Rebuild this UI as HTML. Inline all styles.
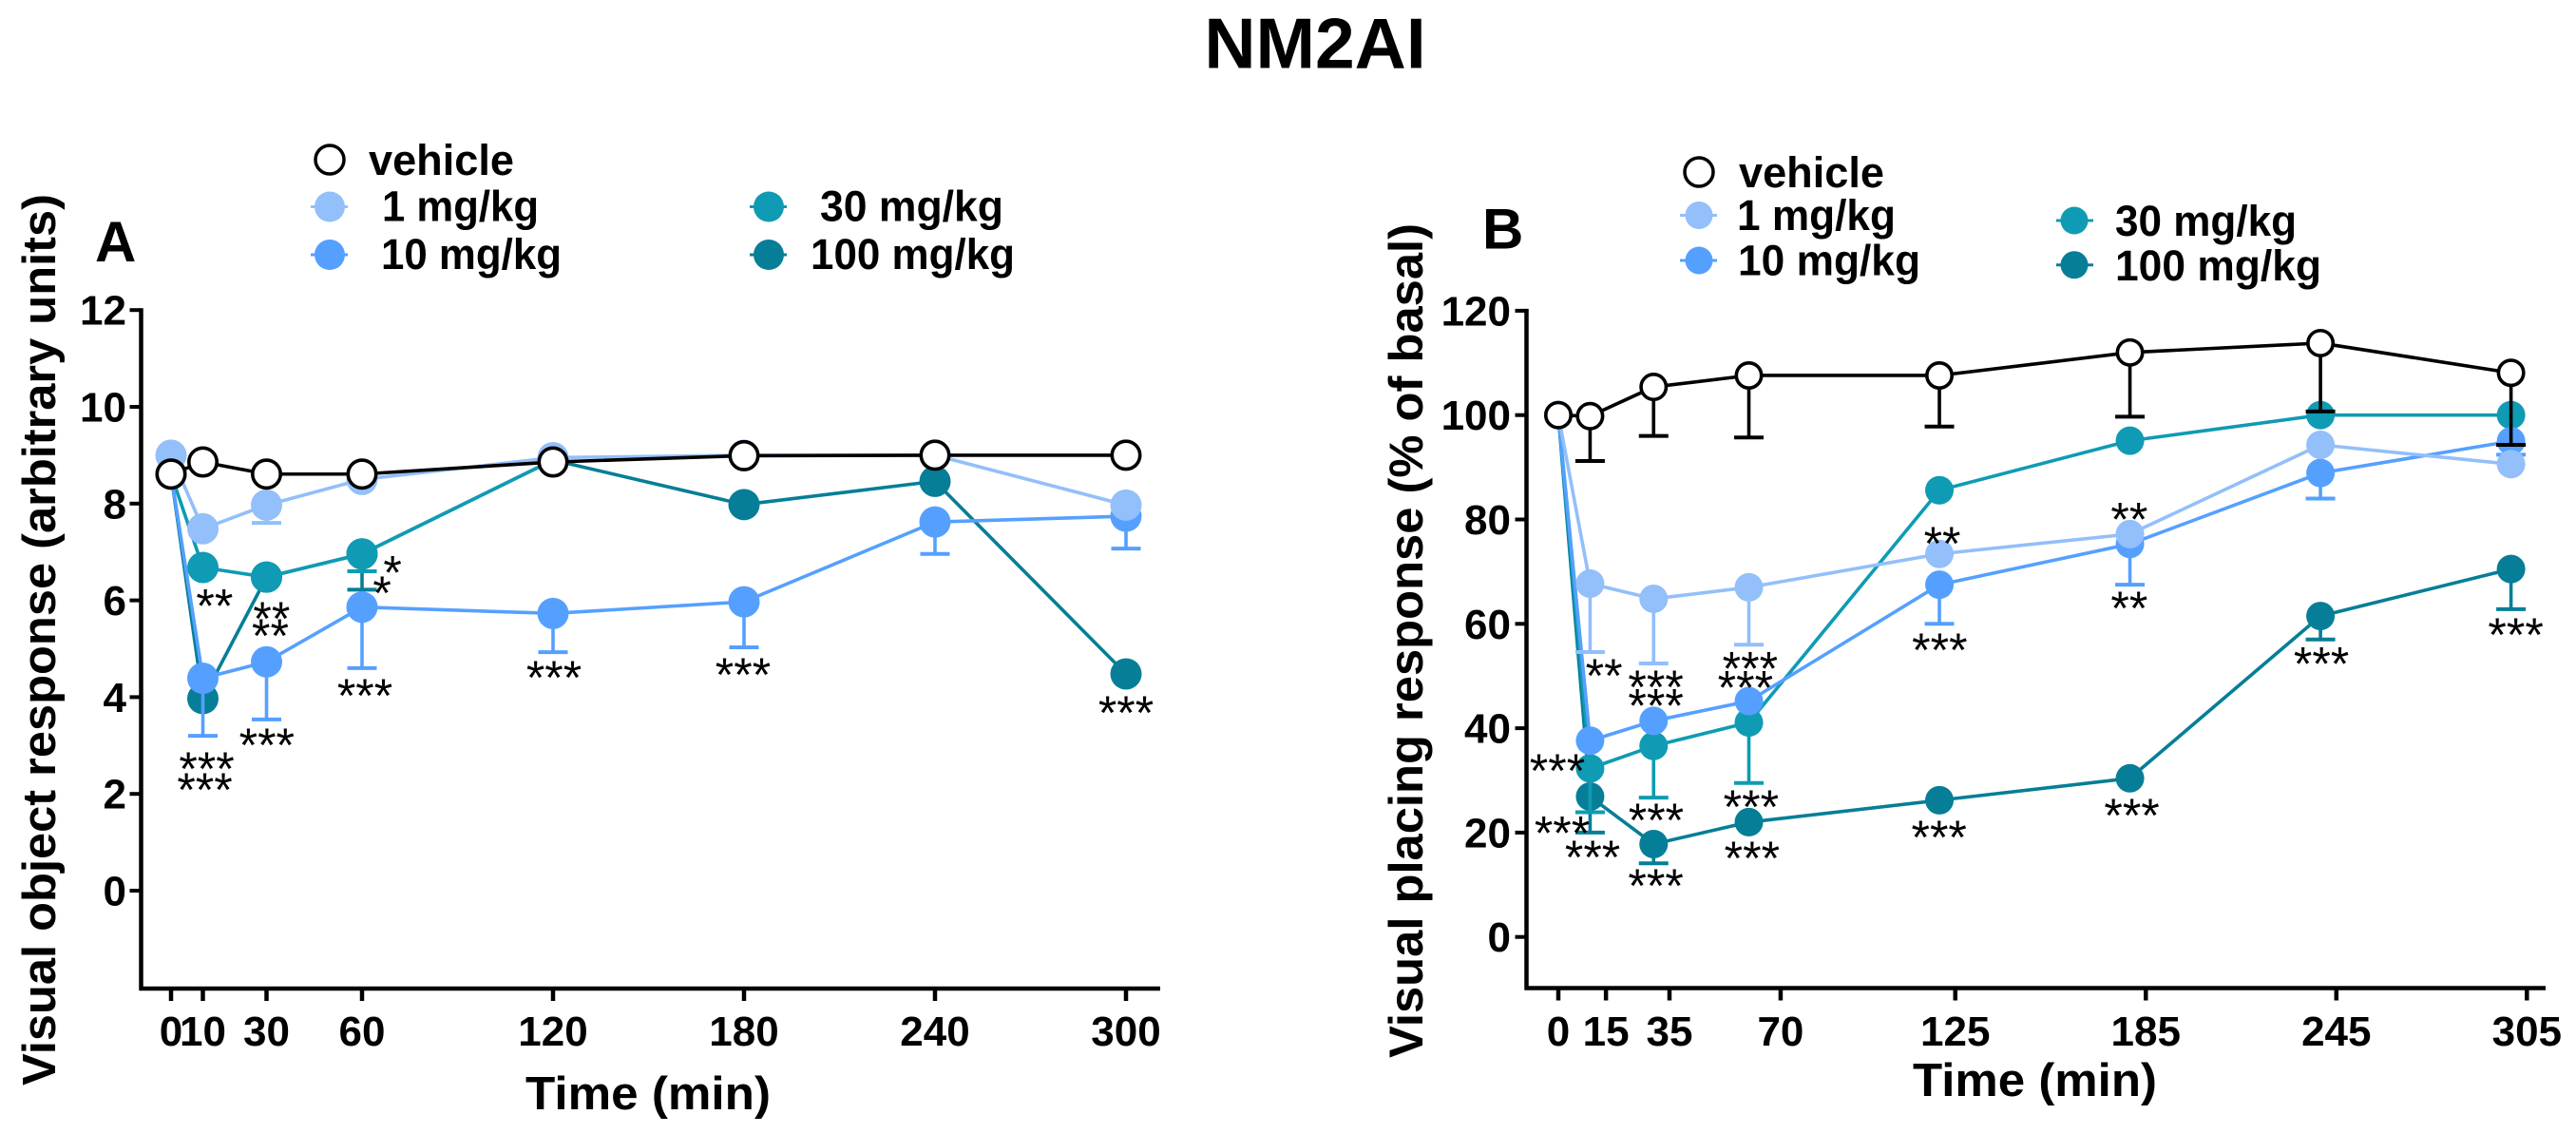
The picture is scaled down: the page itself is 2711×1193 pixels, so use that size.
<!DOCTYPE html>
<html lang="en">
<head>
<meta charset="utf-8">
<title>NM2AI</title>
<style>
html,body{margin:0;padding:0;background:#fff;}
body{width:2711px;height:1193px;overflow:hidden;}
svg{display:block;}
text{font-family:"Liberation Sans",Arial,sans-serif;font-weight:700;fill:#000;}
text.sig{font-weight:400;}
</style>
</head>
<body>
<svg id="fig" xmlns="http://www.w3.org/2000/svg" width="2711" height="1193" viewBox="0 0 2711 1193">
  <rect width="2711" height="1193" fill="#fff"/>
  <text x="1384" y="71.5" font-size="75" text-anchor="middle">NM2AI</text>

  <text x="100" y="275" font-size="60">A</text>
  <text transform="translate(58,1142) rotate(-90)" font-size="49" textLength="938" lengthAdjust="spacingAndGlyphs">Visual object response (arbitrary units)</text>
  <text x="553" y="1167" font-size="49" textLength="258" lengthAdjust="spacingAndGlyphs">Time (min)</text>

  <g>
    <g>
      <circle cx="347" cy="168" r="15" fill="#fff" stroke="#000" stroke-width="3.5"/>
      <text x="388" y="184" font-size="45" textLength="153" lengthAdjust="spacingAndGlyphs">vehicle</text>
    </g>
    <g>
      <line x1="327" x2="366" y1="217.5" y2="217.5" stroke="#93bffa" stroke-width="3"/>
      <circle cx="347" cy="217.5" r="16" fill="#93bffa"/>
      <text x="402" y="232.5" font-size="45" textLength="165" lengthAdjust="spacingAndGlyphs">1 mg/kg</text>
    </g>
    <g>
      <line x1="327" x2="366" y1="268" y2="268" stroke="#55a0ff" stroke-width="3"/>
      <circle cx="347" cy="268" r="16" fill="#55a0ff"/>
      <text x="401" y="283" font-size="45" textLength="190" lengthAdjust="spacingAndGlyphs">10 mg/kg</text>
    </g>
    <g>
      <line x1="789" x2="828" y1="217.5" y2="217.5" stroke="#0f9bb3" stroke-width="3"/>
      <circle cx="809" cy="217.5" r="16" fill="#0f9bb3"/>
      <text x="863" y="232.5" font-size="45" textLength="193" lengthAdjust="spacingAndGlyphs">30 mg/kg</text>
    </g>
    <g>
      <line x1="789" x2="828" y1="268" y2="268" stroke="#067e97" stroke-width="3"/>
      <circle cx="809" cy="268" r="16" fill="#067e97"/>
      <text x="853" y="283" font-size="45" textLength="215" lengthAdjust="spacingAndGlyphs">100 mg/kg</text>
    </g>
  </g>

  <text x="1560" y="261.5" font-size="60">B</text>
  <text transform="translate(1497,1113) rotate(-90)" font-size="50" textLength="878" lengthAdjust="spacingAndGlyphs">Visual placing response (% of basal)</text>
  <text x="2013" y="1153" font-size="49" textLength="257" lengthAdjust="spacingAndGlyphs">Time (min)</text>

  <g>
    <g>
      <circle cx="1788" cy="181" r="15" fill="#fff" stroke="#000" stroke-width="3.5"/>
      <text x="1830" y="197" font-size="45" textLength="153" lengthAdjust="spacingAndGlyphs">vehicle</text>
    </g>
    <g>
      <line x1="1768" x2="1807" y1="226.5" y2="226.5" stroke="#93bffa" stroke-width="3"/>
      <circle cx="1788" cy="226.5" r="14.5" fill="#93bffa"/>
      <text x="1828" y="242" font-size="45" textLength="167" lengthAdjust="spacingAndGlyphs">1 mg/kg</text>
    </g>
    <g>
      <line x1="1768" x2="1807" y1="274" y2="274" stroke="#55a0ff" stroke-width="3"/>
      <circle cx="1788" cy="274" r="14.5" fill="#55a0ff"/>
      <text x="1829" y="289.5" font-size="45" textLength="192" lengthAdjust="spacingAndGlyphs">10 mg/kg</text>
    </g>
    <g>
      <line x1="2164" x2="2203" y1="232" y2="232" stroke="#0f9bb3" stroke-width="3"/>
      <circle cx="2183" cy="232" r="14.5" fill="#0f9bb3"/>
      <text x="2226" y="248" font-size="45" textLength="191" lengthAdjust="spacingAndGlyphs">30 mg/kg</text>
    </g>
    <g>
      <line x1="2164" x2="2203" y1="278.7" y2="278.7" stroke="#067e97" stroke-width="3"/>
      <circle cx="2183" cy="278.7" r="14.5" fill="#067e97"/>
      <text x="2226" y="295" font-size="45" textLength="217" lengthAdjust="spacingAndGlyphs">100 mg/kg</text>
    </g>
  </g>

  <g id="panel-a"></g>
  <g id="panel-b"></g>
</svg>

<script>
// Shared sampling times (minutes)
const timePoints = [0, 10, 30, 60, 120, 180, 240, 300];

// Panel A: visual object response
const yTicksA = [0, 2, 4, 6, 8, 10, 12];
const xTicksA = [0, 10, 30, 60, 120, 180, 240, 300];
const xTickLabelsA = ['0', '10', '30', '60', '120', '180', '240', '300'];
const a100 = [8.61, 3.97, 6.48, 6.96, 8.9, 7.98, 8.46, 4.48];
const a100Err = [null, null, null, 6.22, null, null, null, null];
const a30 = [8.61, 6.68, 6.48, 6.96, 8.9, null, null, null];
const a30Err = [null, null, null, 6.6, null, null, null, null];
const a10 = [8.61, 4.39, 4.73, 5.86, 5.73, 5.97, 7.62, 7.74];
const a10Err = [null, 3.2, 3.54, 4.6, 4.93, 5.03, 6.96, 7.07];
const a1 = [9.0, 7.48, 7.97, 8.5, 8.95, 9.0, 9.0, 7.97];
const a1Err = [null, null, 7.6, null, null, null, null, null];
const aVehicle = [8.61, 8.86, 8.61, 8.61, 8.86, 8.99, 9.0, 9.0];
const aVehicleErr = [null, null, null, null, null, null, null, null];
const sigTimesA = [13.7, 31.6, 31.2, 69.6, 66.3, 11.2, 10.6, 30.1, 60.9, 120.3, 179.7, 300.0];
const sigValuesA = [6.08, 5.82, 5.46, 6.77, 6.35, 2.71, 2.28, 3.2, 4.22, 4.6, 4.66, 3.87];
const sigLabelsA = ['**', '**', '**', '*', '*', '***', '***', '***', '***', '***', '***', '***'];

// Panel B: visual placing response
const yTicksB = [0, 20, 40, 60, 80, 100, 120];
const xTicksB = [0, 15, 35, 70, 125, 185, 245, 305];
const xTickLabelsB = ['0', '15', '35', '70', '125', '185', '245', '305'];
const b100 = [100, 26.9, 17.8, 22, 26.2, 30.4, 61.5, 70.5];
const b100Err = [null, 20, 14.1, null, null, null, 57, 62.8];
const b30 = [100, 32.3, 36.6, 41.1, 85.6, 95.1, 100, 100];
const b30Err = [null, 23.9, 26.7, 29.5, null, null, null, null];
const b10 = [100, 37.6, 41.4, 45.2, 67.5, 75.3, 88.9, 95];
const b10Err = [null, null, null, null, 60, 67.5, 84, 92.4];
const b1 = [100, 67.7, 64.8, 67, 73.4, 77.2, 94.3, 90.6];
const b1Err = [null, 54.6, 52.4, 56, null, null, null, null];
const bVehicle = [100, 99.8, 105.4, 107.6, 107.6, 112, 113.8, 108.1];
const bVehicleErr = [null, 91.2, 96, 95.7, 97.8, 99.7, 100.7, 94.3];
const sigTimesB = [14.4, 30.7, 30.7, 60.4, 58.9, 120.1, -0.3, 1.2, 10.8, 30.8, 30.7, 60.7, 61, 119.9, 120.9, 179.8, 179.8, 240.3, 301.5, 180.6];
const sigValuesB = [51.9, 49.7, 46.1, 53.2, 49.6, 56.8, 33.6, 21.7, 17.1, 24.2, 11.6, 26.7, 16.9, 20.9, 77.2, 81.8, 64.8, 54.1, 59.7, 25.1];
const sigLabelsB = ['**', '***', '***', '***', '***', '***', '***', '***', '***', '***', '***', '***', '***', '***', '**', '**', '**', '***', '***', '***'];

const NS = 'http://www.w3.org/2000/svg';

function make(parent, tag, attrs, content) {
  const el = document.createElementNS(NS, tag);
  for (const k in attrs) el.setAttribute(k, attrs[k]);
  if (content !== undefined) el.textContent = content;
  parent.appendChild(el);
  return el;
}

function drawAxes(root, cfg) {
  const axisG = make(root, 'g', {});
  
  

  const yAxis = make(axisG, 'line', {x1: cfg.axisX, x2: cfg.axisX, y1: cfg.sy(cfg.yTicks[cfg.yTicks.length - 1]) - 2, y2: cfg.axisY + 2, stroke: '#000', 'stroke-width': 4.5});
  
  

  const xAxis = make(axisG, 'line', {x1: cfg.axisX - 2, x2: cfg.axisEnd, y1: cfg.axisY, y2: cfg.axisY, stroke: '#000', 'stroke-width': 4.5});
  
  

  cfg.yTicks.forEach(function (v) {
    const y = cfg.sy(v);
    const tick = make(axisG, 'line', {x1: cfg.axisX - 12, x2: cfg.axisX, y1: y, y2: y, stroke: '#000', 'stroke-width': 4});
    
    
    const label = make(axisG, 'text', {x: cfg.yLabelX, y: y + 15.5, 'font-size': 44, 'text-anchor': 'end'}, String(v));
    
    
  });

  cfg.xTicks.forEach(function (t, i) {
    const x = cfg.sx(t);
    const tick = make(axisG, 'line', {x1: x, x2: x, y1: cfg.axisY, y2: cfg.axisY + 13, stroke: '#000', 'stroke-width': 4.5});
    
    
    const label = make(axisG, 'text', {x: x, y: cfg.xLabelY, 'font-size': 44, 'text-anchor': 'middle'}, cfg.xTickLabels[i]);
    
    
  });
}

function drawSeries(root, cfg, name, values, errors, color, hollow) {
  const g = make(root, 'g', {});
  
  

  const pts = [];
  timePoints.forEach(function (t, i) {
    if (values[i] !== null) pts.push(cfg.sx(t) + ',' + cfg.sy(values[i]));
  });
  const line = make(g, 'polyline', {points: pts.join(' '), fill: 'none', stroke: color, 'stroke-width': 3.6, 'stroke-linejoin': 'round'});
  
  

  timePoints.forEach(function (t, i) {
    if (errors[i] === null || values[i] === null) return;
    const x = cfg.sx(t);
    const stem = make(g, 'line', {x1: x, x2: x, y1: cfg.sy(values[i]), y2: cfg.sy(errors[i]), stroke: color, 'stroke-width': 3.6});
    
    
    const cap = make(g, 'line', {x1: x - 15.5, x2: x + 15.5, y1: cfg.sy(errors[i]), y2: cfg.sy(errors[i]), stroke: color, 'stroke-width': 4});
    
    
  });

  timePoints.forEach(function (t, i) {
    if (values[i] === null) return;
    const attrs = hollow
      ? {cx: cfg.sx(t), cy: cfg.sy(values[i]), r: cfg.r - 1.8, fill: '#fff', stroke: '#000', 'stroke-width': 3.6}
      : {cx: cfg.sx(t), cy: cfg.sy(values[i]), r: cfg.r, fill: color};
    const dot = make(g, 'circle', attrs);
    
    
  });
}

function drawSignificance(root, cfg, times, vals, labels) {
  const g = make(root, 'g', {});
  
  
  labels.forEach(function (s, i) {
    const mark = make(g, 'text', {x: cfg.sx(times[i]), y: cfg.sy(vals[i]) + 27, 'font-size': 50, 'text-anchor': 'middle', class: 'sig'}, s);
    
    
  });
}

const colors = {c100: '#067e97', c30: '#0f9bb3', c10: '#55a0ff', c1: '#93bffa', vehicle: '#000'};

const cfgA = {
  sx: function (t) { return 180 + 3.35 * t; },
  sy: function (v) { return 937 - 50.9 * v; },
  axisX: 148.5, axisY: 1040, axisEnd: 1221,
  yLabelX: 133, xLabelY: 1100,
  yTicks: yTicksA, xTicks: xTicksA, xTickLabels: xTickLabelsA, r: 16.5
};
const cfgB = {
  sx: function (t) { return 1640 + 3.342 * t; },
  sy: function (v) { return 985.7 - 5.49 * v; },
  axisX: 1606.5, axisY: 1039.5, axisEnd: 2679,
  yLabelX: 1590, xLabelY: 1100,
  yTicks: yTicksB, xTicks: xTicksB, xTickLabels: xTickLabelsB, r: 15
};

const rootA = document.getElementById('panel-a');
drawAxes(rootA, cfgA);
drawSeries(rootA, cfgA, '100-mg-kg', a100, a100Err, colors.c100, false);
drawSeries(rootA, cfgA, '30-mg-kg', a30, a30Err, colors.c30, false);
drawSeries(rootA, cfgA, '10-mg-kg', a10, a10Err, colors.c10, false);
drawSeries(rootA, cfgA, '1-mg-kg', a1, a1Err, colors.c1, false);
drawSeries(rootA, cfgA, 'vehicle', aVehicle, aVehicleErr, colors.vehicle, true);
drawSignificance(rootA, cfgA, sigTimesA, sigValuesA, sigLabelsA);

const rootB = document.getElementById('panel-b');
drawAxes(rootB, cfgB);
drawSeries(rootB, cfgB, '100-mg-kg', b100, b100Err, colors.c100, false);
drawSeries(rootB, cfgB, '30-mg-kg', b30, b30Err, colors.c30, false);
drawSeries(rootB, cfgB, '10-mg-kg', b10, b10Err, colors.c10, false);
drawSeries(rootB, cfgB, '1-mg-kg', b1, b1Err, colors.c1, false);
drawSeries(rootB, cfgB, 'vehicle', bVehicle, bVehicleErr, colors.vehicle, true);
drawSignificance(rootB, cfgB, sigTimesB, sigValuesB, sigLabelsB);
</script>
</body>
</html>
